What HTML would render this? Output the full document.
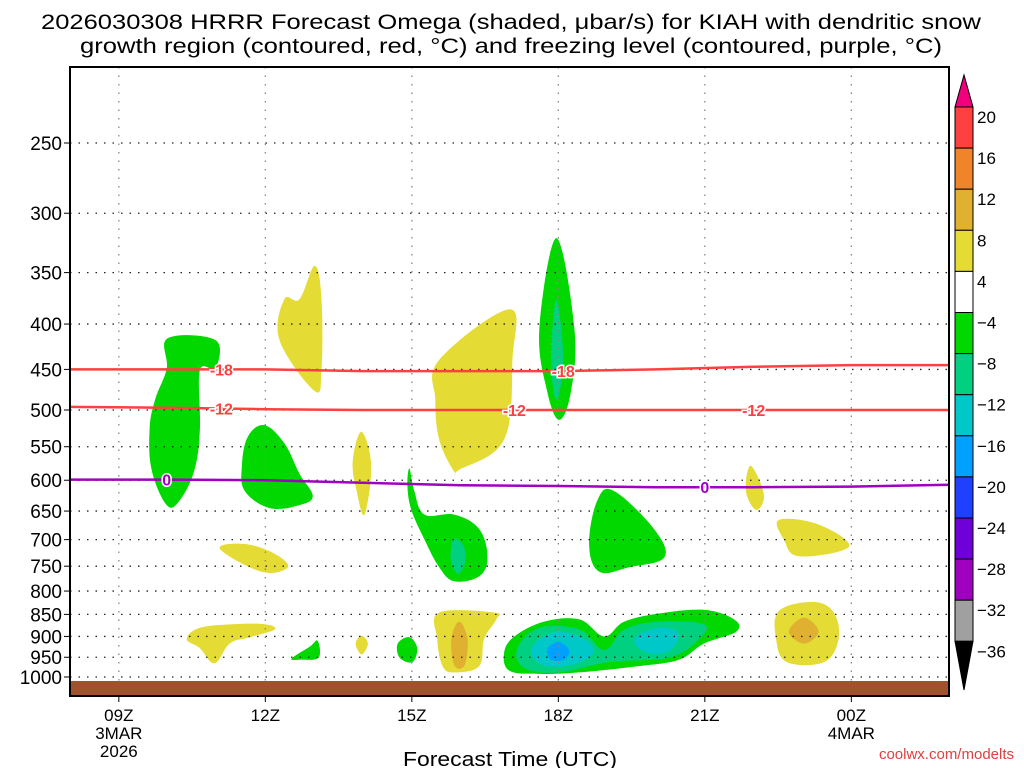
<!DOCTYPE html>
<html><head><meta charset="utf-8"><style>
html,body{margin:0;padding:0;background:#fff;width:1024px;height:768px;overflow:hidden}
svg{display:block;font-family:"Liberation Sans",sans-serif}
</style></head><body>
<svg id="chart" width="1024" height="768" viewBox="0 0 1024 768" xmlns="http://www.w3.org/2000/svg">
<text x="511" y="29" font-size="21" text-anchor="middle" textLength="940" lengthAdjust="spacingAndGlyphs">2026030308 HRRR Forecast Omega (shaded, μbar/s) for KIAH with dendritic snow</text>
<text x="511" y="53" font-size="21" text-anchor="middle" textLength="862" lengthAdjust="spacingAndGlyphs">growth region (contoured, red, °C) and freezing level (contoured, purple, °C)</text>
<g id="plot"></g>
<text x="510" y="766" font-size="20" text-anchor="middle" textLength="214" lengthAdjust="spacingAndGlyphs">Forecast Time (UTC)</text>
<text x="1014" y="759" font-size="15" fill="#e04040" text-anchor="end">coolwx.com/modelts</text>
</svg>
<script>
// axes data
const pLevels=[250,300,350,400,450,500,550,600,650,700,750,800,850,900,950,1000];
const xTickHours=[0,3,6,9,12,15];
const xTickLabels=["09Z","12Z","15Z","18Z","21Z","00Z"];
const xTickSub=[["3MAR","2026"],[],[],[],[],["4MAR"]];
const cbLevels=["20","16","12","8","4","-4","-8","-12","-16","-20","-24","-28","-32","-36"];
const cbColors=["#ff4040","#f08428","#e0b030","#e4dc34","#ffffff","#00d800","#00d080","#00c8c8","#00a0ff","#2040ff","#7000d8","#a000c0","#a0a0a0"];
// contour lines
const lineHours=[-1,1,3,5,7,9,11,13,15,17];
const isoM18=[450,450,450,452,452,452,450,447,445,445];
const isoM12=[496,497,499,500,500,500,500,500,500,500];
const iso0=[599,599,600,604,608,609,611,611,610,607];
const labM18Hours=[2.1,9.1];
const labM12Hours=[2.1,8.1,13.0];
const lab0Hours=[0.98,12.0];
// shaded omega regions ([hour,hPa] vertices)
const shadeGreenA=[[1.0,415],[1.98,417],[1.98,449],[1.66,451],[1.66,526],[1.55,584],[1.25,632],[0.98,640],[0.67,584],[0.63,526],[0.74,487],[0.98,449]];
const shadeYellowB=[[3.70,375],[4.01,344],[4.15,375],[4.15,451],[4.01,476],[3.29,417],[3.39,375]];
const shadeGreenC=[[2.98,520],[3.39,545],[3.70,590],[3.97,625],[3.70,640],[3.09,645],[2.58,617],[2.52,578],[2.64,536]];
const shadeYellowD=[[4.97,529],[5.17,578],[5.03,656],[4.87,617],[4.79,571]];
const shadeYellowE=[[6.56,439],[8.0,385],[8.06,439],[7.89,540],[6.97,584],[6.87,587],[6.56,540],[6.48,487]];
const shadeGreenF=[[8.96,320],[9.33,405],[9.26,476],[9.02,513],[8.77,476],[8.61,405]];
const shadeTealF=[[8.96,375],[9.10,439],[8.96,487],[8.85,439]];
const shadeGreenG=[[5.95,582],[6.05,617],[6.26,656],[6.87,656],[7.38,681],[7.55,733],[7.38,770],[6.87,780],[6.56,752],[6.26,700],[5.99,648],[5.91,609]];
const shadeTealG=[[6.85,700],[7.05,710],[7.10,740],[6.95,765],[6.80,740]];
const shadeGreenH=[[9.80,632],[10.14,617],[10.96,681],[11.17,733],[10.45,752],[9.84,761],[9.63,708]];
const shadeYellowI=[[12.94,578],[13.21,623],[13.05,648],[12.84,617]];
const shadeYellowJ=[[13.52,665],[14.33,673],[14.95,713],[13.93,731],[13.62,700]];
const shadeYellowK=[[2.58,708],[3.19,726],[3.46,752],[2.92,761],[2.07,717]];
const shadeYellowL=[[1.66,880],[2.33,872],[2.99,872],[3.19,884],[2.68,902],[2.27,917],[1.96,965],[1.66,928],[1.39,906]];
const shadeGreenM=[[3.54,953],[3.91,924],[4.07,910],[4.09,951],[3.70,956]];
const shadeYellowN=[[4.97,898],[5.10,917],[4.97,943],[4.85,917]];
const shadeGreenO=[[5.95,902],[6.11,928],[6.01,962],[5.75,951],[5.71,917]];
const shadeYellowP=[[6.56,846],[7.69,846],[7.73,861],[7.48,906],[7.38,972],[6.87,988],[6.63,972],[6.52,906]];
const shadeOrangeP=[[6.97,866],[7.14,906],[7.08,970],[6.87,970],[6.81,906]];
const shadeGreenQ=[[7.89,939],[8.10,900],[8.71,866],[9.43,861],[9.94,900],[10.35,866],[11.06,848],[11.98,840],[12.60,861],[12.64,889],[11.98,917],[11.47,956],[10.65,972],[9.43,988],[8.61,992],[8.0,984]];
const shadeTealQ=[[8.16,928],[8.61,880],[9.43,884],[9.94,932],[10.35,884],[11.06,866],[11.98,872],[11.88,906],[11.27,951],[10.04,962],[9.02,988],[8.30,977]];
const shadeCyanQ1=[[8.45,928],[8.92,890],[9.50,905],[9.72,939],[9.25,970],[8.65,968]];
const shadeCyanQ2=[[10.60,900],[11.06,880],[11.45,892],[11.32,930],[10.96,942],[10.62,926]];
const shadeBlueQ=[[8.77,932],[8.98,913],[9.22,932],[9.12,956],[8.85,956]];
const shadeYellowR=[[13.52,842],[14.23,823],[14.64,846],[14.74,906],[14.44,962],[13.68,962],[13.46,906]];
const shadeOrangeR=[[14.03,857],[14.33,889],[14.03,917],[13.72,889]];

const NS="http://www.w3.org/2000/svg";
const L=70,R=949,T=67,B=696;
const hMin=-1,hMax=17;
function xs(h){return L+(h-hMin)/(hMax-hMin)*(R-L);}
function ys(p){return 143+385.2*Math.log(p/250);}
const plot=document.getElementById('plot');
function mk(tag,attrs,parent){const e=document.createElementNS(NS,tag);for(const k in attrs)e.setAttribute(k,attrs[k]);(parent||plot).appendChild(e);return e;}
function smoothPath(P){
 const n=P.length;let d='M'+P[0][0].toFixed(1)+','+P[0][1].toFixed(1);
 const t=0.18;
 for(let i=0;i<n;i++){
  const p0=P[(i-1+n)%n],p1=P[i],p2=P[(i+1)%n],p3=P[(i+2)%n];
  const c1=[p1[0]+(p2[0]-p0[0])*t,p1[1]+(p2[1]-p0[1])*t];
  const c2=[p2[0]-(p3[0]-p1[0])*t,p2[1]-(p3[1]-p1[1])*t];
  d+=' C'+c1[0].toFixed(1)+','+c1[1].toFixed(1)+' '+c2[0].toFixed(1)+','+c2[1].toFixed(1)+' '+p2[0].toFixed(1)+','+p2[1].toFixed(1);
 }
 return d+'Z';
}

let bg=mk('rect',{x:L,y:T,width:R-L,height:B-T,fill:'#fff'});



const shades=[
 [shadeGreenA,'#00d800','omega-region-green-09z'],[shadeYellowB,'#e4dc34','omega-region-yellow-12z-upper'],
 [shadeGreenC,'#00d800','omega-region-green-12z'],[shadeYellowD,'#e4dc34','omega-region-yellow-14z'],
 [shadeYellowE,'#e4dc34','omega-region-yellow-16z'],[shadeGreenF,'#00d800','omega-region-green-18z'],
 [shadeTealF,'#00d080','omega-region-teal-18z'],[shadeGreenG,'#00d800','omega-region-green-15z'],
 [shadeTealG,'#00d080','omega-region-teal-16z'],[shadeGreenH,'#00d800','omega-region-green-19z'],
 [shadeYellowI,'#e4dc34','omega-region-yellow-22z'],[shadeYellowJ,'#e4dc34','omega-region-yellow-23z-mid'],
 [shadeYellowK,'#e4dc34','omega-region-yellow-11z-mid'],[shadeYellowL,'#e4dc34','omega-region-yellow-11z-low'],
 [shadeGreenM,'#00d800','omega-region-green-13z-low'],[shadeYellowN,'#e4dc34','omega-region-yellow-14z-low'],
 [shadeGreenO,'#00d800','omega-region-green-15z-low'],[shadeYellowP,'#e4dc34','omega-region-yellow-16z-low'],
 [shadeOrangeP,'#e0b030','omega-region-gold-16z-low'],[shadeGreenQ,'#00d800','omega-region-green-18z-low'],
 [shadeTealQ,'#00d080','omega-region-teal-18z-low'],[shadeCyanQ1,'#00c8c8','omega-region-cyan-18z-low'],
 [shadeCyanQ2,'#00c8c8','omega-region-cyan-20z-low'],[shadeBlueQ,'#00a0ff','omega-region-blue-18z-low'],
 [shadeYellowR,'#e4dc34','omega-region-yellow-23z-low'],[shadeOrangeR,'#e0b030','omega-region-gold-23z-low']
];
shades.forEach(s=>{
 const pts=s[0].map(q=>[xs(q[0]),ys(q[1])]);
 const e=mk('path',{d:smoothPath(pts),fill:s[1]});
 
 
});

pLevels.forEach(p=>{
 const y=ys(p);
 const g=mk('line',{x1:L,x2:R,y1:y,y2:y,stroke:'#222','stroke-width':1.3,'stroke-dasharray':'1.5,7'});
 
 
 const t=mk('line',{x1:L-6,x2:L,y1:y,y2:y,stroke:'#000','stroke-width':1});
 
 
 const lb=mk('text',{x:L-8,y:y+7,'font-size':19,'text-anchor':'end'});
 lb.textContent=p;
 
 
});
xTickHours.forEach((h,i)=>{
 const x=xs(h);
 const g=mk('line',{x1:x,x2:x,y1:T,y2:B,stroke:'#888','stroke-width':1.3,'stroke-dasharray':'1.5,7'});
 
 
 const t=mk('line',{x1:x,x2:x,y1:B,y2:B+6,stroke:'#000'});
 
 
 const lb=mk('text',{x:x,y:B+25,'font-size':17,'text-anchor':'middle'});
 lb.textContent=xTickLabels[i];
 
 
 xTickSub[i].forEach((s,j)=>{
  const sl=mk('text',{x:x,y:B+43+j*18,'font-size':17,'text-anchor':'middle'});
  sl.textContent=s;
  
  
 });
});

const gr=mk('rect',{x:L,y:681,width:R-L,height:B-681,fill:'#a0522d'});



function contour(vals,color,name,labHours,lab){
 const d=lineHours.map((h,i)=>(i?'L':'M')+xs(h).toFixed(1)+','+ys(vals[i]).toFixed(1)).join(' ');
 const e=mk('path',{d:d,fill:'none',stroke:color,'stroke-width':2.5});
 
 
 labHours.forEach(h=>{
  let k=0;while(k<lineHours.length-2&&lineHours[k+1]<h)k++;
  const f=(h-lineHours[k])/(lineHours[k+1]-lineHours[k]);
  const p=vals[k]+f*(vals[k+1]-vals[k]);
  const x=xs(h),y=ys(p);
  const t=mk('text',{x:x,y:y+6,'font-size':16,'font-weight':'bold',fill:color,'text-anchor':'middle',stroke:'#fff','stroke-width':3,'paint-order':'stroke'});
  t.textContent=lab;
  
  
 });
}
contour(isoM18,'#ff4040','contour-minus18c',labM18Hours,'-18');
contour(isoM12,'#ff4040','contour-minus12c',labM12Hours,'-12');
contour(iso0,'#a000c0','freezing-level-contour',lab0Hours,'0');

const fr=mk('rect',{x:L,y:T,width:R-L,height:B-T,fill:'none',stroke:'#000','stroke-width':2});



const cbX=955,cbW=18,cbTop=107,seg=41.1;
const tri=mk('polygon',{points:`${cbX},${cbTop} ${cbX+cbW},${cbTop} ${cbX+cbW/2},75`,fill:'#f0007c',stroke:'#000'});


cbColors.forEach((c,i)=>{
 const r=mk('rect',{x:cbX,y:cbTop+i*seg,width:cbW,height:seg,fill:c,stroke:'#000','stroke-width':1});
 
 
});
const bot=cbTop+cbColors.length*seg;
const tri2=mk('polygon',{points:`${cbX},${bot} ${cbX+cbW},${bot} ${cbX+cbW/2},690`,fill:'#000',stroke:'#000'});


cbLevels.forEach((l,i)=>{
 const t=mk('text',{x:977,y:cbTop+i*seg+16,'font-size':17});
 t.textContent=l.replace('-','\u2212');
 
 
});
</script>
</body></html>
